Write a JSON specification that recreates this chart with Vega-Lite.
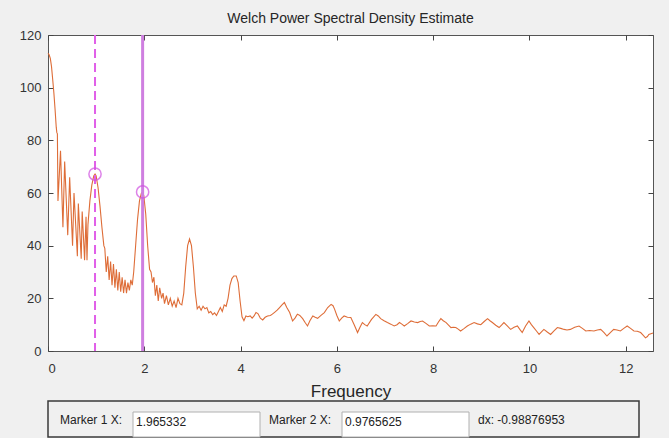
{
  "$schema": "https://vega.github.io/schema/vega-lite/v6.json",
  "background": "#f0f0f0",
  "padding": {"left": 18, "top": 11, "right": 13, "bottom": 0},
  "spacing": 0,
  "config": {
    "font": "Liberation Sans",
    "view": {"stroke": null},
    "axis": {
      "labelFont": "Liberation Sans",
      "labelFontSize": 13,
      "labelColor": "#333333",
      "titleFont": "Liberation Sans",
      "titleColor": "#262626",
      "titleFontWeight": "normal",
      "grid": false,
      "domain": false,
      "tickColor": "#444444",
      "tickSize": -5,
      "tickWidth": 1
    }
  },
  "datasets": {
    "psd": [
      {"f":0.000,"p":113},{"f":0.024,"p":112.5},{"f":0.049,"p":111},{"f":0.073,"p":108},{"f":0.098,"p":103},
      {"f":0.122,"p":98},{"f":0.146,"p":92},{"f":0.171,"p":85},{"f":0.183,"p":83},{"f":0.195,"p":82.5},
      {"f":0.207,"p":57},{"f":0.26,"p":76},{"f":0.31,"p":47},{"f":0.346,"p":72},{"f":0.41,"p":44},
      {"f":0.45,"p":66},{"f":0.51,"p":40},{"f":0.54,"p":60},{"f":0.61,"p":36},{"f":0.63,"p":56},
      {"f":0.69,"p":35},{"f":0.71,"p":53},{"f":0.76,"p":34.5},{"f":0.79,"p":51},{"f":0.81,"p":34.5},
      {"f":0.83,"p":48},{"f":0.87,"p":57},{"f":0.91,"p":63},{"f":0.95,"p":66.5},{"f":0.977,"p":67.2},
      {"f":1.00,"p":66.5},{"f":1.04,"p":62},{"f":1.08,"p":55},{"f":1.12,"p":47},{"f":1.16,"p":40},
      {"f":1.18,"p":39},{"f":1.21,"p":30},{"f":1.24,"p":36},{"f":1.27,"p":27},{"f":1.30,"p":34},
      {"f":1.33,"p":25},{"f":1.36,"p":33},{"f":1.39,"p":24},{"f":1.42,"p":31},{"f":1.45,"p":23},
      {"f":1.48,"p":30},{"f":1.51,"p":22.5},{"f":1.54,"p":28},{"f":1.57,"p":22},{"f":1.60,"p":27},
      {"f":1.63,"p":22},{"f":1.66,"p":26},{"f":1.69,"p":23},{"f":1.72,"p":27},{"f":1.75,"p":25},
      {"f":1.78,"p":30},{"f":1.82,"p":40},{"f":1.86,"p":50},{"f":1.90,"p":57},{"f":1.94,"p":60},
      {"f":1.965,"p":60.4},{"f":1.99,"p":59},{"f":2.03,"p":52},{"f":2.07,"p":40},{"f":2.11,"p":31},
      {"f":2.14,"p":30},{"f":2.17,"p":26},{"f":2.20,"p":28},{"f":2.23,"p":21},{"f":2.26,"p":25},
      {"f":2.29,"p":19},{"f":2.32,"p":24},{"f":2.36,"p":20},{"f":2.39,"p":22},{"f":2.42,"p":18},
      {"f":2.46,"p":21},{"f":2.50,"p":17.5},{"f":2.54,"p":20},{"f":2.58,"p":17},{"f":2.62,"p":19},
      {"f":2.66,"p":16.5},{"f":2.70,"p":20},{"f":2.74,"p":18},{"f":2.78,"p":17.5},{"f":2.82,"p":22},
      {"f":2.86,"p":32},{"f":2.90,"p":40},{"f":2.94,"p":42.5},{"f":2.98,"p":40},{"f":3.02,"p":32},
      {"f":3.06,"p":22},{"f":3.10,"p":16},{"f":3.14,"p":17},{"f":3.18,"p":15.5},{"f":3.22,"p":17},
      {"f":3.26,"p":16},{"f":3.30,"p":16.5},{"f":3.34,"p":14.5},{"f":3.38,"p":15},{"f":3.42,"p":13.8},
      {"f":3.46,"p":14.5},{"f":3.50,"p":13.5},{"f":3.54,"p":15},{"f":3.58,"p":16.5},{"f":3.62,"p":15},
      {"f":3.66,"p":17.5},{"f":3.70,"p":17},{"f":3.74,"p":20},{"f":3.78,"p":25},{"f":3.82,"p":27.5},
      {"f":3.86,"p":28.5},{"f":3.91,"p":28.5},{"f":3.95,"p":26},{"f":3.99,"p":19},{"f":4.03,"p":13},
      {"f":4.07,"p":11.5},{"f":4.11,"p":13.3},{"f":4.15,"p":13},{"f":4.20,"p":13.3},{"f":4.24,"p":12.5},
      {"f":4.28,"p":13.3},{"f":4.32,"p":14.6},{"f":4.36,"p":14.2},{"f":4.41,"p":12.5},{"f":4.46,"p":11.8},
      {"f":4.51,"p":12.8},{"f":4.56,"p":13.3},{"f":4.62,"p":13.5},{"f":4.66,"p":14},{"f":4.70,"p":14.6},
      {"f":4.76,"p":15.5},{"f":4.81,"p":16.5},{"f":4.86,"p":17.5},{"f":4.91,"p":18.4},{"f":4.96,"p":16.5},
      {"f":5.02,"p":14.6},{"f":5.08,"p":11.4},{"f":5.13,"p":12.5},{"f":5.18,"p":14},{"f":5.23,"p":13.5},
      {"f":5.29,"p":12.3},{"f":5.34,"p":10.8},{"f":5.39,"p":9.5},{"f":5.44,"p":11.5},{"f":5.50,"p":13.3},
      {"f":5.55,"p":12.8},{"f":5.60,"p":12.4},{"f":5.67,"p":13.5},{"f":5.74,"p":14.6},{"f":5.81,"p":16.5},
      {"f":5.88,"p":17.7},{"f":5.92,"p":17.2},{"f":5.95,"p":16},{"f":6.00,"p":13.5},{"f":6.05,"p":11.4},
      {"f":6.10,"p":12.5},{"f":6.15,"p":13.3},{"f":6.22,"p":12.8},{"f":6.29,"p":12.7},{"f":6.36,"p":10},
      {"f":6.43,"p":7},{"f":6.48,"p":9},{"f":6.53,"p":10.8},{"f":6.58,"p":10},{"f":6.63,"p":9.5},
      {"f":6.72,"p":12},{"f":6.81,"p":13.9},{"f":6.86,"p":13.3},{"f":6.91,"p":12.3},{"f":6.98,"p":11.5},
      {"f":7.05,"p":10.8},{"f":7.12,"p":10.2},{"f":7.19,"p":9.5},{"f":7.25,"p":10},{"f":7.30,"p":10.8},
      {"f":7.35,"p":10.2},{"f":7.40,"p":9.5},{"f":7.47,"p":10.4},{"f":7.54,"p":11.4},{"f":7.61,"p":11},
      {"f":7.68,"p":10.8},{"f":7.73,"p":11.2},{"f":7.78,"p":11.4},{"f":7.85,"p":10.5},{"f":7.92,"p":9.5},
      {"f":7.99,"p":9.6},{"f":8.06,"p":9.5},{"f":8.11,"p":11},{"f":8.16,"p":12.3},{"f":8.21,"p":11.5},
      {"f":8.27,"p":10.8},{"f":8.32,"p":9.8},{"f":8.37,"p":8.9},{"f":8.42,"p":9},{"f":8.47,"p":8.9},
      {"f":8.52,"p":8.3},{"f":8.57,"p":7.6},{"f":8.64,"p":8.5},{"f":8.71,"p":9.5},{"f":8.78,"p":10.2},
      {"f":8.85,"p":10.8},{"f":8.92,"p":10.3},{"f":8.99,"p":10},{"f":9.06,"p":11.2},{"f":9.13,"p":12.3},
      {"f":9.18,"p":11.5},{"f":9.23,"p":10.8},{"f":9.30,"p":9.8},{"f":9.37,"p":8.9},{"f":9.42,"p":9.8},
      {"f":9.47,"p":10.8},{"f":9.54,"p":9.5},{"f":9.61,"p":8.2},{"f":9.68,"p":9},{"f":9.75,"p":9.5},
      {"f":9.80,"p":8.2},{"f":9.85,"p":7},{"f":9.92,"p":9.5},{"f":9.99,"p":11.4},{"f":10.04,"p":10},
      {"f":10.09,"p":8.9},{"f":10.15,"p":7.5},{"f":10.20,"p":6.3},{"f":10.25,"p":7.3},{"f":10.30,"p":8.2},
      {"f":10.37,"p":7.2},{"f":10.44,"p":6.3},{"f":10.51,"p":7.6},{"f":10.58,"p":8.9},{"f":10.65,"p":8.6},
      {"f":10.72,"p":8.2},{"f":10.78,"p":8.0},{"f":10.85,"p":8.2},{"f":10.94,"p":9},{"f":11.03,"p":9.5},
      {"f":11.10,"p":8.6},{"f":11.17,"p":7.6},{"f":11.25,"p":7.8},{"f":11.34,"p":7.6},{"f":11.41,"p":8},
      {"f":11.48,"p":8.2},{"f":11.55,"p":7},{"f":11.61,"p":5.7},{"f":11.68,"p":7},{"f":11.75,"p":8.2},
      {"f":11.82,"p":8},{"f":11.89,"p":7.6},{"f":11.96,"p":8.6},{"f":12.03,"p":9.5},{"f":12.10,"p":8.6},
      {"f":12.17,"p":7.6},{"f":12.24,"p":7.5},{"f":12.31,"p":7},{"f":12.36,"p":6},{"f":12.41,"p":5},
      {"f":12.45,"p":5.5},{"f":12.48,"p":6.3},{"f":12.5664,"p":6.8}
    ],
    "markers": [
      {"name":"Marker 1","f":1.965332,"p":60.4},
      {"name":"Marker 2","f":0.9765625,"p":67.2}
    ],
    "markerbox": [
      {"col":"m1","label":"Marker 1  X:","value":"1.965332"},
      {"col":"m2","label":"Marker 2  X:","value":"0.9765625"},
      {"col":"dx","label":"dx: -0.98876953","value":null}
    ]
  },
  "vconcat": [
    {
      "width": 605,
      "height": 316,
      "title": {"text": "Welch Power Spectral Density Estimate", "fontSize": 14, "fontWeight": "normal", "color": "#262626", "offset": 3, "font": "Liberation Sans"},
      "view": {"fill": "white", "stroke": "#555555", "strokeWidth": 1},
      "resolve": {"axis": {"x": "independent", "y": "independent"}},
      "layer": [
        {
          "data": {"name": "psd"},
          "mark": {"type": "line", "color": "#de6d38", "strokeWidth": 1.1},
          "encoding": {
            "x": {"field": "f", "type": "quantitative", "scale": {"domain": [0, 12.5664], "nice": false, "zero": false},
                  "axis": {"values": [0,2,4,6,8,10,12], "title": "Frequency", "titleFontSize": 17, "labelPadding": 16, "titlePadding": 8}},
            "y": {"field": "p", "type": "quantitative", "scale": {"domain": [0, 120], "nice": false},
                  "axis": {"values": [0,20,40,60,80,100,120], "title": null, "labelPadding": 12}}
          }
        },
        {
          "data": {"name": "markers"},
          "transform": [{"filter": "datum.name === 'Marker 2'"}],
          "mark": {"type": "rule", "color": "#e060e8", "strokeWidth": 2, "strokeDash": [9, 5]},
          "encoding": {"x": {"field": "f", "type": "quantitative", "axis": null}}
        },
        {
          "data": {"name": "markers"},
          "transform": [{"filter": "datum.name === 'Marker 1'"}],
          "mark": {"type": "rule", "color": "#cf7fe0", "strokeWidth": 3},
          "encoding": {"x": {"field": "f", "type": "quantitative", "axis": null}}
        },
        {
          "data": {"name": "markers"},
          "mark": {"type": "point", "shape": "circle", "filled": false, "color": "#d050e0", "size": 150, "strokeWidth": 1.5},
          "encoding": {
            "x": {"field": "f", "type": "quantitative", "axis": {"orient": "top", "values": [0,2,4,6,8,10,12], "labels": false, "title": null}},
            "y": {"field": "p", "type": "quantitative", "axis": {"orient": "right", "values": [0,20,40,60,80,100,120], "labels": false, "title": null}}
          }
        }
      ]
    },
    {
      "width": 591,
      "height": 36,
      "data": {"name": "markerbox"},
      "view": {"fill": "#f0f0f0", "stroke": "#3a3a3a", "strokeWidth": 1.5},
      "layer": [
        {
          "transform": [{"filter": "datum.value != null"}],
          "mark": {"type": "bar", "color": "white", "stroke": "#b0b0b0", "strokeWidth": 1, "width": 127, "xOffset": 44},
          "encoding": {
            "x": {"field": "col", "type": "nominal", "scale": {"domain": ["m1","m2","dx"], "range": [0, 627], "paddingInner": 0, "paddingOuter": 0}, "axis": null},
            "y": {"datum": 0, "type": "quantitative", "scale": {"domain": [0, 36], "nice": false}, "axis": null},
            "y2": {"datum": 25}
          }
        },
        {
          "mark": {"type": "text", "align": "left", "baseline": "middle", "dx": 12, "fontSize": 12, "color": "#222222", "font": "Liberation Sans"},
          "encoding": {
            "x": {"field": "col", "type": "nominal", "bandPosition": 0},
            "y": {"datum": 17, "type": "quantitative"},
            "text": {"field": "label"}
          }
        },
        {
          "transform": [{"filter": "datum.value != null"}],
          "mark": {"type": "text", "align": "left", "baseline": "middle", "dx": 88, "fontSize": 12, "color": "#222222", "font": "Liberation Sans"},
          "encoding": {
            "x": {"field": "col", "type": "nominal", "bandPosition": 0},
            "y": {"datum": 15, "type": "quantitative"},
            "text": {"field": "value"}
          }
        }
      ]
    }
  ]
}
